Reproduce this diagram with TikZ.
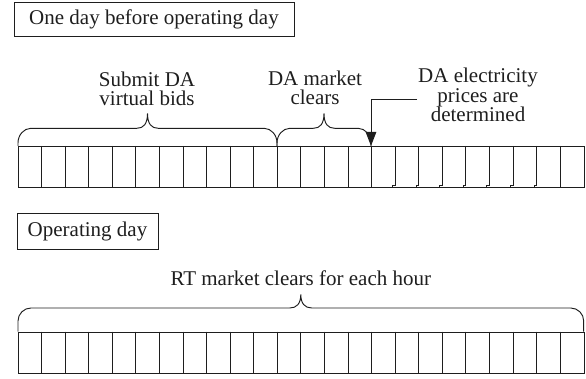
\documentclass[tikz,border=0pt]{standalone}
\usepackage{fontspec}
\setmainfont{Liberation Serif}
\usetikzlibrary{arrows.meta}
\definecolor{ink}{RGB}{30,30,30}
\begin{document}
\begin{tikzpicture}[x=1pt,y=-1pt, line width=0.95pt, draw=ink, text=ink,
  txt/.style={font=\fontsize{21}{19.5}\selectfont, inner sep=0pt, align=center},
  hdr/.style={draw, font=\fontsize{21}{19.5}\selectfont, inner sep=0pt},
  strip/.style={draw, minimum width=565.7pt, minimum height=41.5pt, inner sep=0pt, anchor=north west},
  brace/.style={draw},
  cell/.style={draw}]
\useasboundingbox (0,0) rectangle (586,379);

% headers
\node[hdr, minimum width=280pt, minimum height=34pt] (h1) at (154,19) {One day before operating day};
\node[hdr, minimum width=141pt, minimum height=36pt] (h2) at (87.5,231) {Operating day};

% top strip
\node[strip] (topstrip) at (18,146) {};
\foreach \k in {1,...,15,23} \draw[cell] (18+\k*23.57,146) -- (18+\k*23.57,187.5);
\foreach \k in {16,...,22} \draw[cell] (18+\k*23.57,146) -- (18+\k*23.57,185.5) -- (18+\k*23.57-2.5,185.5) -- (18+\k*23.57-2.5,187.5);

% bottom strip
\node[strip] (botstrip) at (18,331.5) {};
\foreach \k in {1,...,23} \draw[cell] (18+\k*23.57,331.5) -- (18+\k*23.57,373);

% brace 1 (Submit DA virtual bids)
\draw[brace] (18,146) -- (18,143) .. controls (18,134.9) and (23.9,128.3) .. (31,128.3)
  -- (136.8,128.3) .. controls (143.5,128.3) and (147.5,124) .. (147.5,113.3)
  .. controls (147.5,124) and (151.5,128.3) .. (158.2,128.3)
  -- (264,128.3) .. controls (271.1,128.3) and (277,134.9) .. (277,143) -- (277,146);

% brace 2 (DA market clears)
\draw[brace] (277,146) -- (277,143) .. controls (277,134.9) and (282.9,128.3) .. (290,128.3)
  -- (313.3,128.3) .. controls (320,128.3) and (324,124) .. (324,113.3)
  .. controls (324,124) and (328,128.3) .. (334.7,128.3)
  -- (358,128.3) .. controls (365.1,128.3) and (371,134.9) .. (371,143) -- (371,146);

% brace 3 (RT market)
\draw[brace] (18,331.5) -- (18,321) .. controls (18,313.8) and (23.9,308) .. (31,308)
  -- (289.8,308) .. controls (296.8,308) and (300.8,303.5) .. (300.8,294.3)
  .. controls (300.8,303.5) and (304.8,308) .. (311.8,308)
  -- (570.7,308) .. controls (577.8,308) and (583.7,313.8) .. (583.7,321) -- (583.7,331.5);

% texts (base anchor = baseline of last line)
\node[txt, anchor=base] (submit) at (147,106) {Submit DA\\virtual bids};
\node[txt, anchor=base] (clears) at (315,105) {DA market\\clears};
\node[txt, anchor=base] (prices) at (478,122) {DA electricity\\prices are\\determined};
\node[txt, anchor=base] (rt) at (300.8,285) {RT market clears for each hour};

% arrow
\coordinate (arrstart) at (417,99.3);
\coordinate (k15) at (371,146);
\draw[-{Triangle[width=10.5pt,length=14pt]}] (arrstart) -| (k15);
\end{tikzpicture}
\end{document}
